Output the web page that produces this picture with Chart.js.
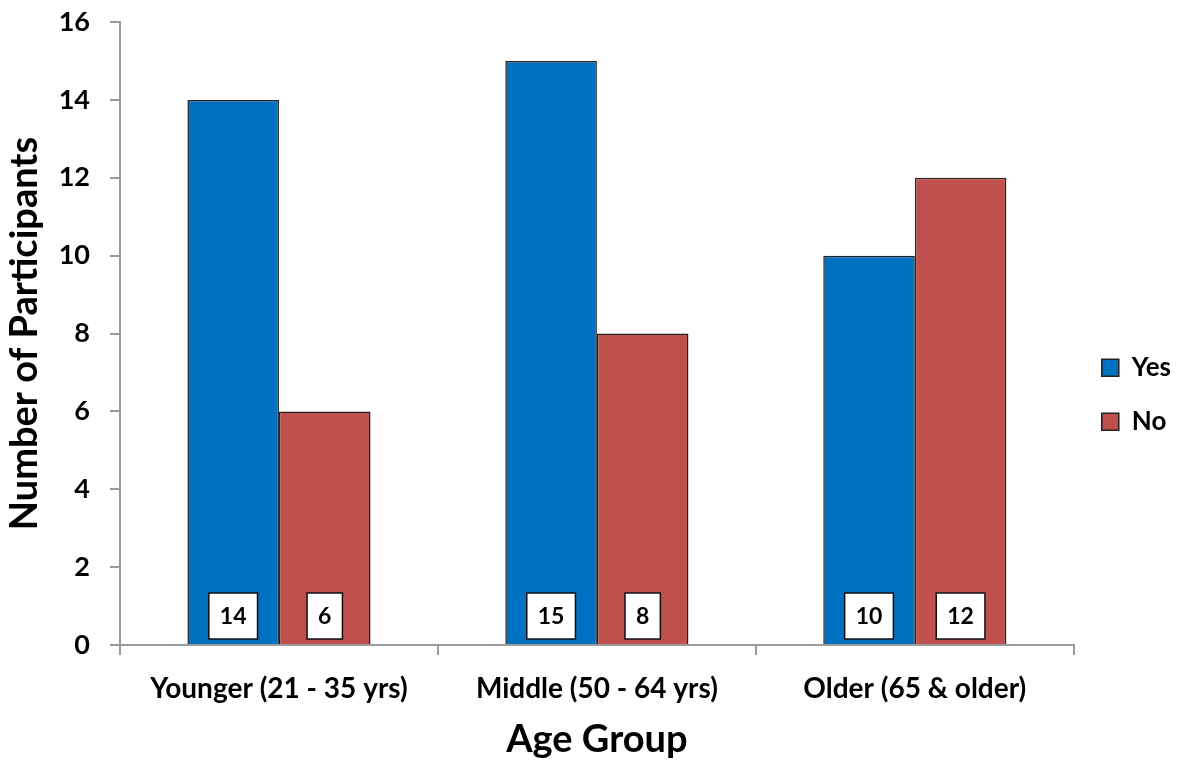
<!DOCTYPE html>
<html>
<head>
<meta charset="utf-8">
<script src="https://cdn.jsdelivr.net/npm/chart.js@4.4.0/dist/chart.umd.min.js"></script>
<style>
  html, body { margin: 0; padding: 0; background: #fff; }
  #wrap { width: 1193px; height: 763px; }
</style>
</head>
<body>
<div id="wrap"><canvas id="ageChart"></canvas></div>
<script>
// Data
const ageGroups = ["Younger (21 - 35 yrs)", "Middle (50 - 64 yrs)", "Older (65 & older)"];
const yesCounts = [14, 15, 10];
const noCounts = [6, 8, 12];
const yTicks = [0, 2, 4, 6, 8, 10, 12, 14, 16];

const FONT = "Lato, 'Open Sans', sans-serif";
const W = "bold";
const axisGray = "#9a9a9a";

// white boxed value labels near the bottom of each bar
const boxLabels = {
    id: "boxLabels",
    afterDatasetsDraw(chart) {
        const ctx = chart.ctx;
        const yScale = chart.scales.y;
        ctx.save();
        ctx.font = W + " 23px " + FONT;
        ctx.textAlign = "center";
        ctx.textBaseline = "middle";
        chart.data.datasets.forEach((ds, i) => {
            chart.getDatasetMeta(i).data.forEach((bar, j) => {
                const txt = String(ds.data[j]);
                const w = ctx.measureText(txt).width + 22;
                const h = 46;
                const cy = yScale.bottom - 29;
                ctx.fillStyle = "#fff";
                ctx.fillRect(bar.x - w / 2, cy - h / 2, w, h);
                ctx.strokeStyle = "#111";
                ctx.lineWidth = 1.5;
                ctx.strokeRect(bar.x - w / 2, cy - h / 2, w, h);
                ctx.fillStyle = "#000";
                ctx.fillText(txt, bar.x, cy + 1);
            });
        });
        ctx.restore();
    }
};

const ctx = document.getElementById("ageChart").getContext("2d");
new Chart(ctx, {
    type: "bar",
    data: {
        labels: ageGroups,
        datasets: [
            { label: "Yes", data: yesCounts, backgroundColor: "#0070C0", borderColor: "#222", borderWidth: 1.5 },
            { label: "No", data: noCounts, backgroundColor: "#C0504D", borderColor: "#222", borderWidth: 1.5 }
        ]
    },
    options: {
        responsive: true,
        maintainAspectRatio: false,
        animation: false,
        layout: { padding: { top: 22, right: 12 } },
        datasets: { bar: { categoryPercentage: 0.576, barPercentage: 1.0 } },
        plugins: {
            tooltip: { enabled: false },
            legend: {
                position: "right",
                title: { display: true, text: " ", font: { size: 2 }, padding: 1 },
                labels: {
                    color: "#000",
                    font: { family: FONT, size: 26, weight: W },
                    boxWidth: 17, boxHeight: 17, padding: 28,
                    useBorderRadius: false
                }
            }
        },
        scales: {
            x: {
                grid: { offset: true, drawOnChartArea: false, drawTicks: true, tickLength: 10, color: axisGray, lineWidth: 2 },
                border: { color: axisGray, width: 2 },
                ticks: { color: "#000", font: { family: FONT, size: 28, weight: W }, padding: 17, maxRotation: 0 },
                title: { display: true, text: "Age Group", color: "#000", font: { family: FONT, size: 38, weight: W }, padding: { top: 4, bottom: 0 } },
                afterFit: (s) => { s.height = 118; }
            },
            y: {
                min: 0, max: 16,
                afterBuildTicks: (s) => { s.ticks = yTicks.map(v => ({ value: v })); },
                grid: { drawOnChartArea: false, drawTicks: true, tickLength: 10, color: axisGray, lineWidth: 2 },
                border: { color: axisGray, width: 2 },
                ticks: { color: "#000", font: { family: FONT, size: 27, weight: W }, padding: 20 },
                title: { display: true, text: "Number of Participants", color: "#000", font: { family: FONT, size: 38, weight: W }, padding: { top: 2, bottom: 4 } },
                afterFit: (s) => { s.width = 120; s.paddingTop = 0; }
            }
        }
    },
    plugins: [boxLabels]
});
</script>
</body>
</html>
